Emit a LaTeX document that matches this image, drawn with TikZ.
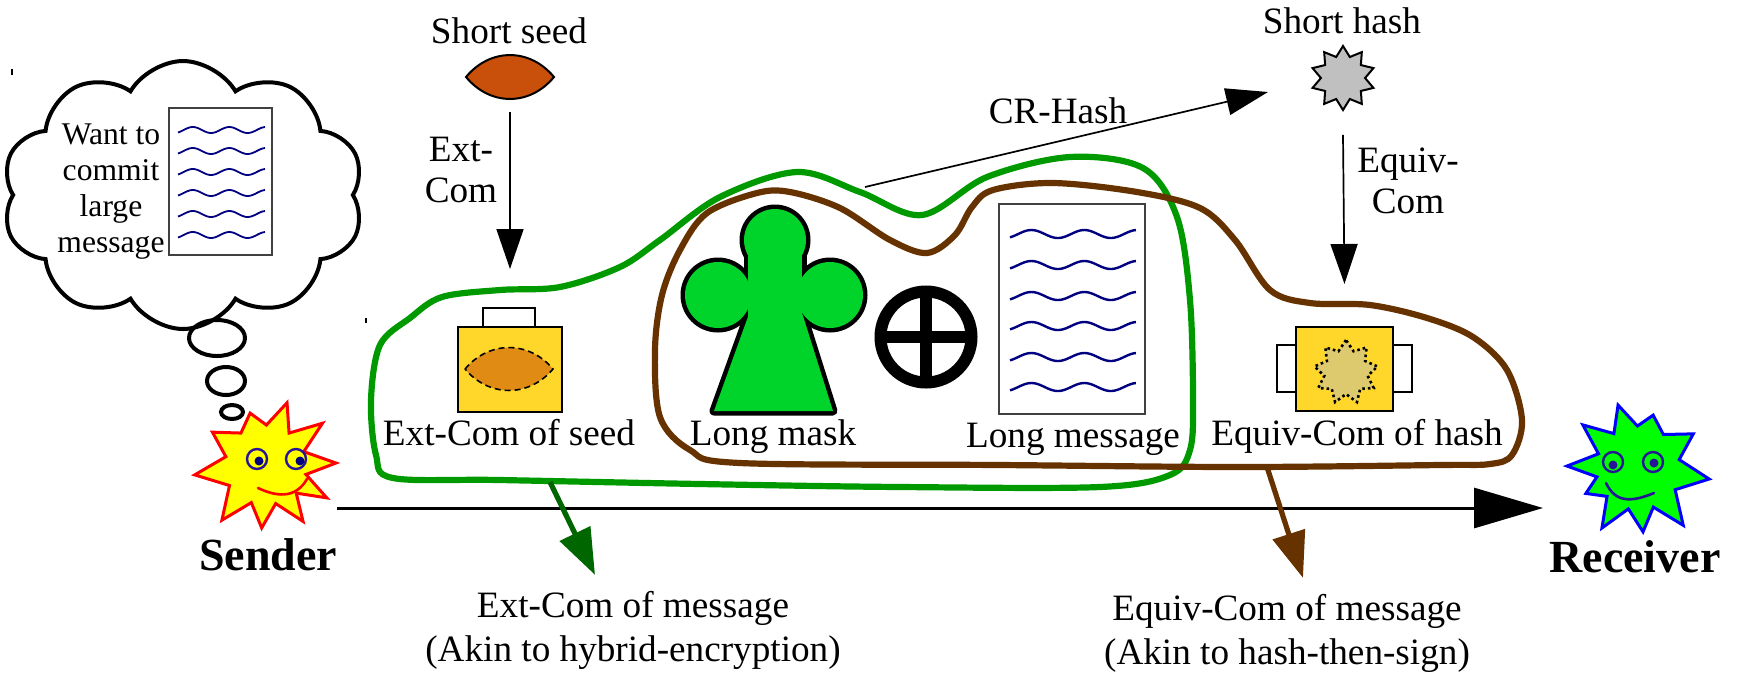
\documentclass[tikz,border=0pt]{standalone}
\usepackage{fontspec}
\setmainfont{Liberation Serif}
\usetikzlibrary{arrows.meta,shapes.symbols,shapes.geometric}

\definecolor{navyline}{RGB}{0,0,128}
\definecolor{eyeblue}{RGB}{40,20,150}
\definecolor{seedorange}{RGB}{200,80,10}
\definecolor{lensorange}{RGB}{224,140,20}
\definecolor{boxyellow}{RGB}{255,214,42}
\definecolor{hashgray}{RGB}{192,192,192}
\definecolor{hashtan}{RGB}{222,202,110}
\definecolor{maskgreen}{RGB}{0,212,42}
\definecolor{loopgreen}{RGB}{0,153,0}
\definecolor{arrowgreen}{RGB}{0,102,0}
\definecolor{loopbrown}{RGB}{102,51,0}
\definecolor{sunyellow}{RGB}{255,255,0}
\definecolor{happygreen}{RGB}{0,255,0}

% one wavy "text line": x0, y0, width, amplitude, style
\newcommand{\wavyline}[5]{%
  \draw[#5] plot[domain=0:1,samples=60,smooth] ({#1+#3*\x},{#2-#4*cos(360*(\x-0.17)/0.42)});}
% lens (seed) shape: style, cx, cy, half width, half height
\newcommand{\lensshape}[5]{%
  \draw[#1] (#2-#4,#3) .. controls (#2-0.45*#4,#3-1.33*#5) and (#2+0.45*#4,#3-1.33*#5) .. (#2+#4,#3)
            .. controls (#2+0.45*#4,#3+1.33*#5) and (#2-0.45*#4,#3+1.33*#5) .. (#2-#4,#3) -- cycle;}
% the pieces of the mask figure, each with a given style
\newcommand{\maskpieces}[1]{%
  \path[#1] (775,240) circle[radius=31];
  \path[#1] (718,295) circle[radius=33];
  \path[#1] (830,295) circle[radius=33];
  \path[#1] (748,250) rectangle (802,320);
  \path[#1] (754,300) -- (798,300) -- (833,411) -- (714,411) -- cycle;}

\begin{document}
\begin{tikzpicture}[x=0.5pt,y=-0.5pt,
  txt/.style={font=\fontsize{18.6}{20.5}\selectfont,inner sep=0pt,outer sep=0pt},
  twoline/.style={font=\fontsize{18.6}{22}\selectfont,inner sep=0pt,outer sep=0pt,align=center},
  boldlbl/.style={font=\fontsize{23}{26}\selectfont\bfseries,inner sep=0pt,outer sep=0pt},
  paper/.style={draw=black!75,line width=0.7pt,fill=white,inner sep=0pt},
  wave/.style={draw=navyline,line width=1.2pt},
  smallwave/.style={draw=navyline,line width=0.9pt},
  thinarrow/.style={-{Triangle[length=20pt,width=13.5pt]},line width=0.85pt},
  bubble/.style={draw,line width=2pt,ellipse,inner sep=0pt},
  loopline/.style={line width=3.1pt,line join=round},
  fatarrow/.style={-{Triangle[length=23pt,width=16.5pt]},line width=2.6pt},
  case/.style={draw,line width=1pt,fill=boxyellow,inner sep=0pt},
  handle/.style={draw,line width=1pt,fill=white,inner sep=0pt},
  eye/.style={draw=eyeblue,line width=1.2pt},
  maskedge/.style={draw=black,line width=4.5pt,line join=round},
  maskfill/.style={fill=maskgreen},
]
\useasboundingbox (0,0) rectangle (1742,677);

% stray specks
\draw[line width=0.6pt] (12,69) -- (12,75);
\draw[line width=0.6pt] (366,318) -- (366,323);

% ---------- thought cloud ----------
\node[cloud,draw,line width=2pt,cloud puffs=10,cloud puff arc=120,aspect=1.4,
      minimum width=181pt,minimum height=134pt,inner sep=0pt] (thought) at (183,195) {};
\node[bubble,minimum width=28pt,minimum height=18pt] (bubA) at (217,338) {};
\node[bubble,minimum width=19pt,minimum height=14pt] (bubB) at (226,381) {};
\node[bubble,minimum width=11pt,minimum height=7pt] (bubC) at (232,412) {};
\node[font=\fontsize{15.8}{18}\selectfont,align=center,inner sep=0pt] (thoughttxt) at (111,192)
  {Want to\\commit\\large\\message};
\node[paper,minimum width=51.5pt,minimum height=73.5pt] (smallpaper) at (220.5,181.5) {};
\foreach \yy in {130,151,172,193,214,235} {\wavyline{178}{\yy}{87}{3}{smallwave}}

% ---------- short seed and its commitment ----------
\node[txt,anchor=base] (seedlbl) at (509,43) {Short seed};
\node[inner sep=0pt,minimum width=44pt,minimum height=22pt] (seed) at (510,77) {};
\lensshape{draw,line width=1pt,fill=seedorange}{510}{77}{44}{22}

\node[handle,minimum width=26pt,minimum height=11pt] (exthandle) at (509,319) {};
\node[case,minimum width=52pt,minimum height=42.5pt] (extcase) at (510,369.5) {};
\lensshape{draw,line width=0.8pt,fill=lensorange,dash pattern=on 3pt off 2pt}{509}{369}{44}{21.5}
\node[txt,anchor=base] (extseedlbl) at (509,445) {Ext-Com of seed};

\draw[thinarrow] ([yshift=-6.5pt]seed.south) -- ([yshift=28.5pt]extcase.north);
\node[txt,align=center] (extcomlbl) at (461,170) {Ext-\\Com};

% ---------- long mask ----------
\maskpieces{maskedge}
\maskpieces{maskfill}
\coordinate (mask) at (775,320);
\node[txt,anchor=base] (masklbl) at (773,445) {Long mask};

% ---------- xor ----------
\node[circle,draw,line width=6pt,minimum size=45.5pt,inner sep=0pt] (xor) at (926,337) {};
\draw[line width=6pt] ([xshift=-20pt]xor.center) -- ([xshift=20pt]xor.center);
\draw[line width=6pt] ([yshift=-20pt]xor.center) -- ([yshift=20pt]xor.center);

% ---------- long message ----------
\node[paper,minimum width=73pt,minimum height=105pt] (longpaper) at (1072,309) {};
\foreach \yy in {234,265,296,326,357,387} {\wavyline{1010}{\yy}{126}{4}{wave}}
\node[txt,anchor=base] (msglbl) at (1073,447) {Long message};

% ---------- short hash and its commitment ----------
\node[txt,anchor=base] (hashlbl) at (1342,33) {Short hash};
\node[star,star points=10,star point ratio=1.45,minimum size=32pt,inner sep=0pt,
      draw,line width=1pt,fill=hashgray] (hash) at (1343,78) {};

\node[handle,minimum width=14pt,minimum height=23.5pt] (lhandle) at (1291,368.5) {};
\node[handle,minimum width=13.5pt,minimum height=23.5pt] (rhandle) at (1398.5,368.5) {};
\node[case,minimum width=48.5pt,minimum height=42pt] (equivcase) at (1344.5,369) {};
\node[star,star points=9,star point ratio=1.45,minimum size=32pt,inner sep=0pt,
      draw,line width=1.3pt,dash pattern=on 1.3pt off 1.5pt,fill=hashtan] (hashin) at (1346,372) {};
\node[txt,anchor=base] (equivhashlbl) at (1357,445) {Equiv-Com of hash};

\draw[thinarrow] ([yshift=-11.5pt]hash.south) -- ([yshift=21pt]equivcase.north);
\node[txt,align=center] (equivcomlbl) at (1408,181) {Equiv-\\Com};

% ---------- CR hash ----------
\coordinate (crfrom) at (865,187);
\draw[-{Triangle[length=21pt,width=13.5pt]},line width=0.85pt] (crfrom) -- ([xshift=-37.5pt,yshift=-7pt]hash.center);
\node[txt,anchor=base] (crlbl) at (1058,123) {CR-Hash};

% ---------- the two commitment loops ----------
\draw[loopline,draw=loopgreen] plot[smooth cycle,tension=0.55] coordinates {
  (393,478) (376,455) (371,400) (380,345) (410,318) (442,297) (500,290) (560,287)
  (620,267) (660,240) (720,197) (797,172) (860,192) (922,215) (987,177) (1070,157)
  (1143,168) (1177,217) (1190,300) (1193,400) (1190,450) (1170,475) (1100,487)
  (900,487) (700,484) (500,480)};
\draw[loopline,draw=loopbrown] plot[smooth cycle,tension=0.55] coordinates {
  (660,417) (655,350) (662,295) (680,250) (707,213) (757,193) (790,192) (840,208)
  (890,240) (927,253) (955,235) (972,207) (993,190) (1053,183) (1137,192) (1200,208)
  (1235,240) (1270,290) (1310,303) (1370,305) (1427,318) (1473,337) (1507,370)
  (1522,420) (1512,455) (1490,464) (1440,465) (1240,467) (1000,465) (740,463) (690,450)};

% ---------- sender ----------
\coordinate (sender) at (265,465);
\begin{scope}[shift={(sender)}]
  \draw[draw=red,line width=1.5pt,fill=sunyellow,line join=miter]
    (-106:54) -- (-88:40) -- (-70.5:66) -- (-53:40) -- (-36:71) -- (-19:41) -- (-1.6:71)
    -- (13:42) -- (28:70) -- (42:42) -- (56:68) -- (74.5:40) -- (93:63) -- (110:40)
    -- (128:70) -- (150:41) -- (172:71) -- (192:40) -- (212:62) -- (233:40) -- cycle;
  \draw[eye] (-8,-6) circle[radius=10];
  \draw[eye] (31,-6) circle[radius=10];
  \fill[navyline] (-6,-4) circle[radius=4.5];
  \fill[navyline] (35,-4) circle[radius=4.5];
  \draw[red,line width=1.3pt,line cap=round] (-7,23) .. controls (10,31) and (30,35) .. (42,14);
\end{scope}
\node[boldlbl,anchor=base] (senderlbl) at (268,570) {Sender};

% ---------- receiver ----------
\coordinate (receiver) at (1638,468);
\begin{scope}[shift={(receiver)}]
  \draw[draw=blue,line width=1.5pt,fill=happygreen,line join=miter]
    (-107.6:66) -- (-90.8:42) -- (-74:55) -- (-52.9:42) -- (-31.7:65) -- (-11.5:42)
    -- (8.8:72) -- (30.3:43) -- (51.7:73) -- (68.6:42) -- (85.5:64) -- (103.3:42)
    -- (121:70) -- (137.5:42) -- (154:58) -- (167.8:42) -- (181.6:71) -- (199.8:42)
    -- (218:70) -- (235:42) -- cycle;
  \draw[eye] (-25,-6) circle[radius=10];
  \draw[eye] (15,-6) circle[radius=10];
  \fill[eyeblue] (-25,-3) circle[radius=4.5];
  \fill[eyeblue] (16,-5) circle[radius=4.5];
  \draw[eyeblue,line width=1.3pt,line cap=round] (-32,15) .. controls (-23,34) and (-8,35) .. (16,25);
\end{scope}
\node[boldlbl,anchor=base] (receiverlbl) at (1635,572) {Receiver};

% ---------- channel ----------
\draw[-{Triangle[length=34.5pt,width=20pt]},line width=1.5pt]
  ([xshift=36pt,yshift=-21.5pt]sender) -- ([xshift=-47.5pt,yshift=-20pt]receiver);

% ---------- results ----------
\node[twoline] (extmsg) at (633,630) {Ext-Com of message\\(Akin to hybrid-encryption)};
\node[twoline] (equivmsg) at (1287,633) {Equiv-Com of message\\(Akin to hash-then-sign)};
\coordinate (greenfoot) at (550,482);
\coordinate (brownfoot) at (1267,467);
\draw[fatarrow,draw=arrowgreen,fill=arrowgreen] (greenfoot) -- ([xshift=-19pt,yshift=8pt]extmsg.north);
\draw[fatarrow,draw=loopbrown,fill=loopbrown] (brownfoot) -- ([xshift=8pt,yshift=8pt]equivmsg.north);

\end{tikzpicture}
\end{document}
